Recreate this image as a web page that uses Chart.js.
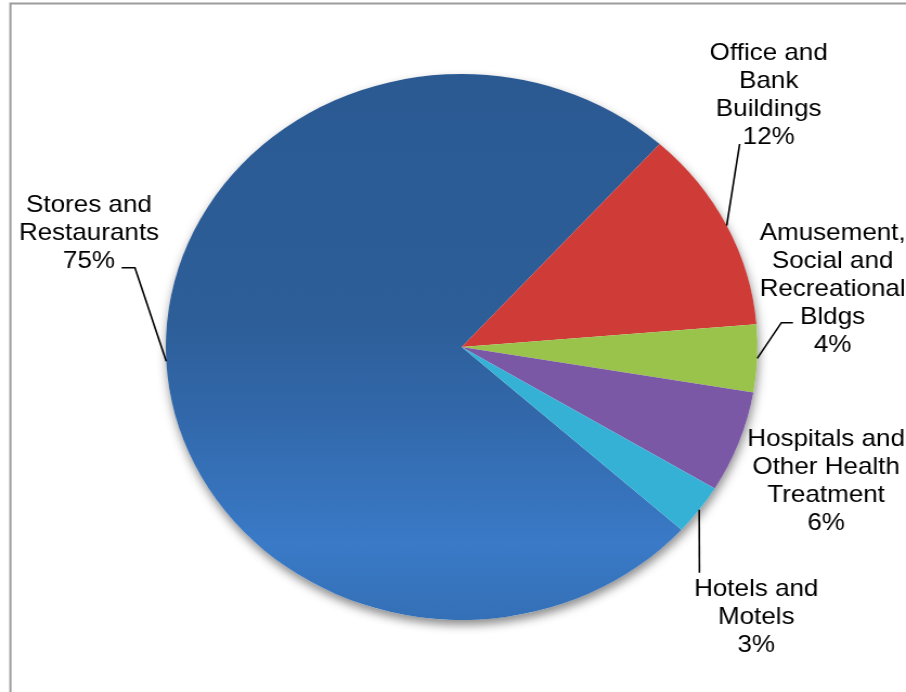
<!DOCTYPE html>
<html>
<head>
<meta charset="utf-8">
<script src="https://cdn.jsdelivr.net/npm/chart.js@4/dist/chart.umd.min.js"></script>
<style>
  html, body { margin: 0; padding: 0; background: #fff; overflow: hidden; }
  /* drawing surface is 836 wide, widened to 906 on screen */
  #wrap { width: 836px; height: 692px; transform: scaleX(1.08373); transform-origin: 0 0; }
  #chart { display: block; }
</style>
</head>
<body>
<div id="wrap"><canvas id="chart" width="836" height="692"></canvas></div>
<script>
// Share of floor space by building type
const categories = [
  ['Stores and', 'Restaurants'],
  ['Office and', 'Bank', 'Buildings'],
  ['Amusement,', 'Social and', 'Recreational', 'Bldgs'],
  ['Hospitals and', 'Other Health', 'Treatment'],
  ['Hotels and', 'Motels']
];
const shares = [75, 12, 4, 6, 3];
const sliceColors = ['#2D5E98', '#CF3C38', '#9AC34C', '#7B58A6', '#36B1D6'];

// label placement: centre x, first baseline, optional leader-line points (toward the slice)
const labelLayout = [
  { x: 82.1,  y: 212.3, leader: [[112.2, 267.7], [124.5, 267.7]] },
  { x: 709.3, y: 60,    leader: [[682.5, 144]] },
  { x: 768.3, y: 240,   leader: [[731.7, 322.7], [721.0, 322.7]] },
  { x: 762.3, y: 445.7, leader: null },
  { x: 697.8, y: 595.7, leader: [[645.4, 572.7]] }
];
const LINE_STEP = 28;
const FONT = '24px "Liberation Sans", Arial, sans-serif';

function sliceFill(ctx) {
  const i = ctx.dataIndex;
  const area = ctx.chart.chartArea;
  if (i !== 0 || !area) return sliceColors[i];
  const g = ctx.chart.ctx.createLinearGradient(0, area.top, 0, area.bottom);
  g.addColorStop(0, '#2B5A93');
  g.addColorStop(0.45, '#2D5E98');
  g.addColorStop(0.62, '#3268AA');
  g.addColorStop(0.86, '#3A7AC7');
  g.addColorStop(1, '#3470B6');
  return g;
}

// soft drop shadow beneath the pie
const pieShadow = {
  id: 'pieShadow',
  beforeDatasetsDraw(chart) {
    const arc = chart.getDatasetMeta(0).data[0];
    if (!arc) return;
    const c = chart.ctx;
    c.save();
    c.shadowColor = 'rgba(0,0,0,0.45)';
    c.shadowBlur = 10;
    c.shadowOffsetX = 1;
    c.shadowOffsetY = 5;
    c.fillStyle = '#ffffff';
    c.beginPath();
    c.arc(arc.x, arc.y, arc.outerRadius, 0, Math.PI * 2);
    c.fill();
    c.restore();
  }
};

// outer frame of the chart area
const frame = {
  id: 'frame',
  beforeDraw(chart) {
    const c = chart.ctx;
    c.save();
    c.fillStyle = '#ffffff';
    c.fillRect(0, 0, chart.width, chart.height);
    c.strokeStyle = '#9c9c9c';
    c.lineWidth = 2;
    c.beginPath();
    c.moveTo(9.6, chart.height + 2);
    c.lineTo(9.6, 3.5);
    c.lineTo(chart.width + 2, 3.5);
    c.stroke();
    c.restore();
  }
};

// category + percentage labels with leader lines
const sliceLabels = {
  id: 'sliceLabels',
  afterDatasetsDraw(chart) {
    const c = chart.ctx;
    const meta = chart.getDatasetMeta(0);
    c.save();
    c.font = FONT;
    c.fillStyle = '#000';
    c.textAlign = 'center';
    c.textBaseline = 'alphabetic';
    c.strokeStyle = '#000';
    c.lineWidth = 1.6;
    meta.data.forEach((arc, i) => {
      const lay = labelLayout[i];
      const lines = categories[i].concat([shares[i] + '%']);
      lines.forEach((t, k) => c.fillText(t, lay.x, lay.y + k * LINE_STEP));
      if (lay.leader) {
        const mid = (arc.startAngle + arc.endAngle) / 2;
        const ax = arc.x + arc.outerRadius * Math.cos(mid);
        const ay = arc.y + arc.outerRadius * Math.sin(mid);
        c.beginPath();
        c.moveTo(lay.leader[0][0], lay.leader[0][1]);
        lay.leader.slice(1).forEach(p => c.lineTo(p[0], p[1]));
        c.lineTo(ax, ay);
        c.stroke();
      }
    });
    c.restore();
  }
};

new Chart(document.getElementById('chart'), {
  type: 'pie',
  data: {
    labels: categories.map(l => l.join(' ')),
    datasets: [{
      data: shares,
      backgroundColor: sliceFill,
      borderWidth: 0,
      hoverOffset: 0
    }]
  },
  options: {
    responsive: false,
    animation: false,
    events: [],
    rotation: 132,
    layout: { padding: { top: 74, bottom: 72, left: 153, right: 137 } },
    plugins: {
      legend: { display: false },
      tooltip: { enabled: false }
    }
  },
  plugins: [frame, pieShadow, sliceLabels]
});
</script>
</body>
</html>
